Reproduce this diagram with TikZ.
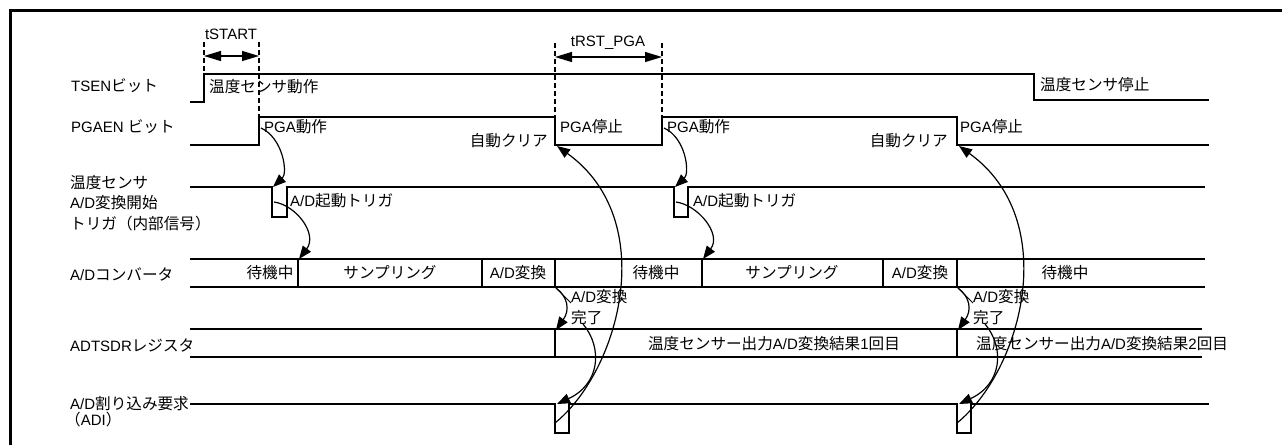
\documentclass[tikz,border=0pt]{standalone}
\usepackage{fontspec}
\setmainfont{Liberation Sans}
\newfontfamily\jpfont{Noto Sans CJK JP}[Scale=1.04]
\newcommand\J[1]{{\jpfont #1}}
\usetikzlibrary{arrows.meta}
\tikzset{
 sig/.style={line width=1.2pt, line join=miter},
 frameline/.style={line width=3.2pt},
 dimline/.style={line width=1.6pt, dash pattern=on 5pt off 3pt},
 dimarrow/.style={line width=1.2pt, {Triangle[length=17pt,width=10pt]}-{Triangle[length=17pt,width=10pt]}},
 curvarrow/.style={line width=1.2pt, -{Triangle[length=13pt,width=10pt]}},
 leader/.style={line width=1pt},
 txt/.style={inner sep=0pt, anchor=base west, font=\fontsize{15}{18}\selectfont},
 ctxt/.style={txt, anchor=base},
 etxt/.style={txt, anchor=base east},
}
\begin{document}
\begin{tikzpicture}[x=1pt,y=-1pt]
\useasboundingbox (0,0) rectangle (1282,445);
% frame
\draw[frameline] (10.5,445) -- (10.5,10.5) -- (1282,10.5);

% left labels
\node[txt] (lTSEN) at (71,91) {TSEN\J{ビット}};
\node[txt] (lPGA) at (71,132) {PGAEN \J{ビット}};
\node[txt] (lTrig1) at (70,188) {\J{温度センサ}};
\node[txt] (lTrig2) at (70,208) {A/D\J{変換開始}};
\node[txt] (lTrig3) at (70,229) {\J{トリガ（内部信号）}};
\node[txt] (lADC) at (70,280) {A/D\J{コンバータ}};
\node[txt] (lREG) at (70,351) {ADTSDR\J{レジスタ}};
\node[txt] (lADI1) at (70,409) {A/D\J{割り込み要求}};
\node[txt] (lADI2) at (65,425) {\J{（}ADI\J{）}};

% TSEN
\draw[sig] (190,102) -- (204,102) -- (204,74) -- (1034,74) -- (1034,100) -- (1209,100);
% PGAEN
\draw[sig] (190,145) -- (259,145) -- (259,117) -- (555,117) -- (555,145) -- (662,145) -- (662,117) -- (957,117) -- (957,145) -- (1209,145);
% trigger
\draw[sig] (190,187) -- (272,187) -- (272,217) -- (287,217) -- (287,187) -- (674,187) -- (674,217) -- (688,217) -- (688,187) -- (1205,187);
% A/D converter bus
\draw[sig] (190,259) -- (1205,259);
\draw[sig] (190,287) -- (1205,287);
\foreach \xx in {298,482,555,702,883,957} \draw[sig] (\xx,259) -- (\xx,287);
% ADTSDR
\draw[sig] (190,329) -- (1202,329);
\draw[sig] (190,357) -- (1202,357);
\foreach \xx in {555,957} \draw[sig] (\xx,329) -- (\xx,357);
% ADI
\draw[sig] (190,404) -- (555,404) -- (555,433) -- (569,433) -- (569,404) -- (957,404) -- (957,433) -- (971,433) -- (971,404) -- (1209,404);

% timing dimensions
\draw[dimline] (204,42) -- (204,74);
\draw[dimline] (259,42) -- (259,117);
\draw[dimline] (555,43) -- (555,117);
\draw[dimline] (662,43) -- (662,117);
\coordinate (tsA) at (204,56);
\coordinate (tsB) at (259,56);
\coordinate (trA) at (555,57);
\coordinate (trB) at (662,57);
\draw[dimarrow] (tsA) -- (tsB);
\draw[dimarrow] (trA) -- (trB);
\node[ctxt] (tSTART) at (231,39) {tSTART};
\node[ctxt] (tRST) at (608,46) {tRST\_PGA};

% signal state texts
\node[txt] (tsOn) at (209,92) {\J{温度センサ動作}};
\node[txt] (tsOff) at (1040,90) {\J{温度センサ停止}};
\node[txt] (pgaOn1) at (264,132) {PGA\J{動作}};
\node[txt] (pgaOff1) at (560,132) {PGA\J{停止}};
\node[txt] (pgaOn2) at (667,132) {PGA\J{動作}};
\node[txt] (pgaOff2) at (960,132) {PGA\J{停止}};
\node[etxt] (clr1) at (548,146) {\J{自動クリア}};
\node[etxt] (clr2) at (948,146) {\J{自動クリア}};
\node[txt] (trgT1) at (290,206) {A/D\J{起動トリガ}};
\node[txt] (trgT2) at (693,206) {A/D\J{起動トリガ}};

% bus texts
\node[ctxt] (b1) at (270,278) {\J{待機中}};
\node[ctxt] (b2) at (390,278) {\J{サンプリング}};
\node[ctxt] (b3) at (518,278) {A/D\J{変換}};
\node[ctxt] (b4) at (656,278) {\J{待機中}};
\node[ctxt] (b5) at (792,278) {\J{サンプリング}};
\node[ctxt] (b6) at (920,278) {A/D\J{変換}};
\node[ctxt] (b7) at (1065,278) {\J{待機中}};

% register texts
\node[ctxt] (r1) at (774,349) {\J{温度センサー出力}A/D\J{変換結果}1\J{回目}};
\node[txt] (r2) at (976,349) {\J{温度センサー出力}A/D\J{変換結果}2\J{回目}};

% conversion complete labels
\node[txt] (cv1) at (571,302) {A/D\J{変換}};
\node[txt] (done1) at (571,323) {\J{完了}};
\node[txt] (cv2) at (973,302) {A/D\J{変換}};
\node[txt] (done2) at (973,323) {\J{完了}};

% connector points, first cycle
\coordinate (pgaUp1) at (261,128);
\coordinate (trgTop1) at (273,187);
\coordinate (trgIn1) at (274,202);
\coordinate (busGo1) at (299,259);
\coordinate (adcEnd1) at (556,288);
\coordinate (cvLead1) at (571,303);
\coordinate (regUp1) at (556,330);
\coordinate (doneS1) at (583,324);
\coordinate (adiUp1) at (557,404);
\coordinate (adiIn1) at (555,423);
\coordinate (pgaDn1) at (557,146);
% second cycle
\coordinate (pgaUp2) at (664,128);
\coordinate (trgTop2) at (675,187);
\coordinate (trgIn2) at (676,202);
\coordinate (busGo2) at (703,259);
\coordinate (adcEnd2) at (958,288);
\coordinate (cvLead2) at (973,303);
\coordinate (regUp2) at (958,330);
\coordinate (doneS2) at (985,324);
\coordinate (adiUp2) at (959,404);
\coordinate (adiIn2) at (957,423);
\coordinate (pgaDn2) at (959,146);

% arrows, first cycle
\draw[curvarrow] (pgaUp1) .. controls +(22,10) and +(15,-14) .. (trgTop1);
\draw[curvarrow] (trgIn1) .. controls +(22,3) and +(19,-25) .. (busGo1);
\draw[leader] (adcEnd1) -- (cvLead1);
\draw[curvarrow] (adcEnd1) .. controls +(12,9) and +(14,-20) .. (regUp1);
\draw[curvarrow] (doneS1) .. controls +(20,24) and +(43,-20) .. (adiUp1);
\draw[curvarrow] (adiIn1) .. controls +(65,-53) and +(103,74) .. (pgaDn1);
% arrows, second cycle
\draw[curvarrow] (pgaUp2) .. controls +(22,10) and +(15,-14) .. (trgTop2);
\draw[curvarrow] (trgIn2) .. controls +(22,3) and +(19,-25) .. (busGo2);
\draw[leader] (adcEnd2) -- (cvLead2);
\draw[curvarrow] (adcEnd2) .. controls +(12,9) and +(14,-20) .. (regUp2);
\draw[curvarrow] (doneS2) .. controls +(20,24) and +(43,-20) .. (adiUp2);
\draw[curvarrow] (adiIn2) .. controls +(65,-53) and +(103,74) .. (pgaDn2);
\end{tikzpicture}
\end{document}
